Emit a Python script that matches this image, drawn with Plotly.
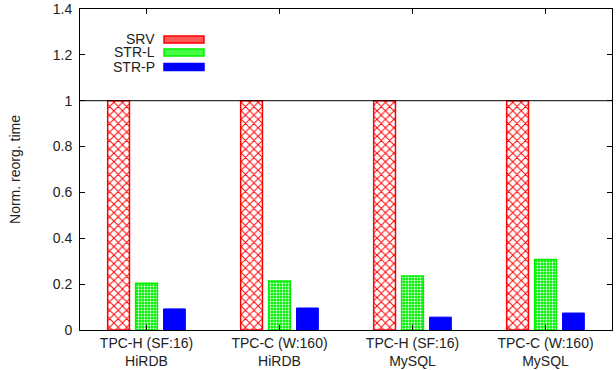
import plotly.graph_objects as go

categories = ["TPC-H (SF:16)<br>HiRDB", "TPC-C (W:160)<br>HiRDB",
              "TPC-H (SF:16)<br>MySQL", "TPC-C (W:160)<br>MySQL"]
series_names = ["SRV", "STR-L", "STR-P"]
srv = [1.0, 1.0, 1.0, 1.0]
str_l = [0.204, 0.214, 0.236, 0.308]
str_p = [0.092, 0.096, 0.056, 0.074]
y_ticks = [0, 0.2, 0.4, 0.6, 0.8, 1, 1.2, 1.4]
y_ticktext = ["0", "0.2", "0.4", "0.6", "0.8", "1", "1.2", "1.4"]

FONT = "Liberation Sans, Arial, Helvetica, sans-serif"
RED = "#ff0000"
GREEN = "#00f000"
BLUE = "#0000ff"

# plot area in pixels (for legend placement in paper coords)
W, H = 616, 370
L, R, T, B = 80, 4, 9, 40
PW, PH = W - L - R, H - T - B


def px_x(x):
    return (x - L) / PW


def px_y(y):
    return (H - B - y) / PH


fig = go.Figure()
fig.add_trace(go.Bar(
    x=categories, y=srv, name=series_names[0],
    marker=dict(color="white", line=dict(color=RED, width=1.5),
                pattern=dict(shape="x", fgcolor=RED, bgcolor="white",
                             size=6, solidity=0.3, fillmode="replace")),
))
fig.add_trace(go.Bar(
    x=categories, y=str_l, name=series_names[1],
    marker=dict(color=GREEN, line=dict(color=GREEN, width=1.5),
                pattern=dict(shape=".", fgcolor="white", bgcolor=GREEN,
                             size=3, solidity=0.35, fillmode="replace")),
))
fig.add_trace(go.Bar(
    x=categories, y=str_p, name=series_names[2],
    marker=dict(color=BLUE, line=dict(color=BLUE, width=1)),
))

fig.add_hline(y=1, line=dict(color="black", width=1))

# legend (gnuplot style: label left, swatch right)
leg_fill = ["#ff5a5a", "#44ff44", BLUE]
leg_line = [RED, GREEN, BLUE]
leg_yc = [39.5, 52.5, 67]
for name, fc, lc, yc in zip(series_names, leg_fill, leg_line, leg_yc):
    fig.add_shape(type="rect", xref="paper", yref="paper",
                  x0=px_x(164), x1=px_x(204), y0=px_y(yc + 3.5), y1=px_y(yc - 3.5),
                  fillcolor=fc, line=dict(color=lc, width=1.5), layer="above")
    fig.add_annotation(x=px_x(156), y=px_y(yc), xref="paper", yref="paper",
                       text=name, showarrow=False, xanchor="right", yanchor="middle",
                       borderpad=0,
                       font=dict(size=14, family=FONT, color="#222"))

fig.update_layout(
    width=W, height=H,
    margin=dict(l=L, r=R, t=T, b=B),
    plot_bgcolor="white", paper_bgcolor="white",
    barmode="group", bargap=0.37, bargroupgap=0.22,
    font=dict(family=FONT, size=14, color="#222"),
    showlegend=False,
)
fig.update_xaxes(
    showline=True, linecolor="black", linewidth=1, mirror="ticks",
    ticks="inside", ticklen=5, tickcolor="black",
    range=[-0.5, 3.5], showgrid=False, automargin=False,
    tickfont=dict(size=14, family=FONT), ticklabelstandoff=0,
)
fig.update_yaxes(
    showline=True, linecolor="black", linewidth=1, mirror="ticks",
    ticks="inside", ticklen=5, tickcolor="black",
    range=[0, 1.4], tickvals=y_ticks, ticktext=y_ticktext,
    showgrid=False, zeroline=False, automargin=False,
    ticklabelstandoff=4,
    title=dict(text="Norm. reorg. time", font=dict(size=14, family=FONT), standoff=28),
    tickfont=dict(size=14, family=FONT),
)

fig.write_html(
    "out.html",
    config={"displayModeBar": False},
    post_script="document.body.style.margin='0px';document.body.style.overflow='hidden';",
)
